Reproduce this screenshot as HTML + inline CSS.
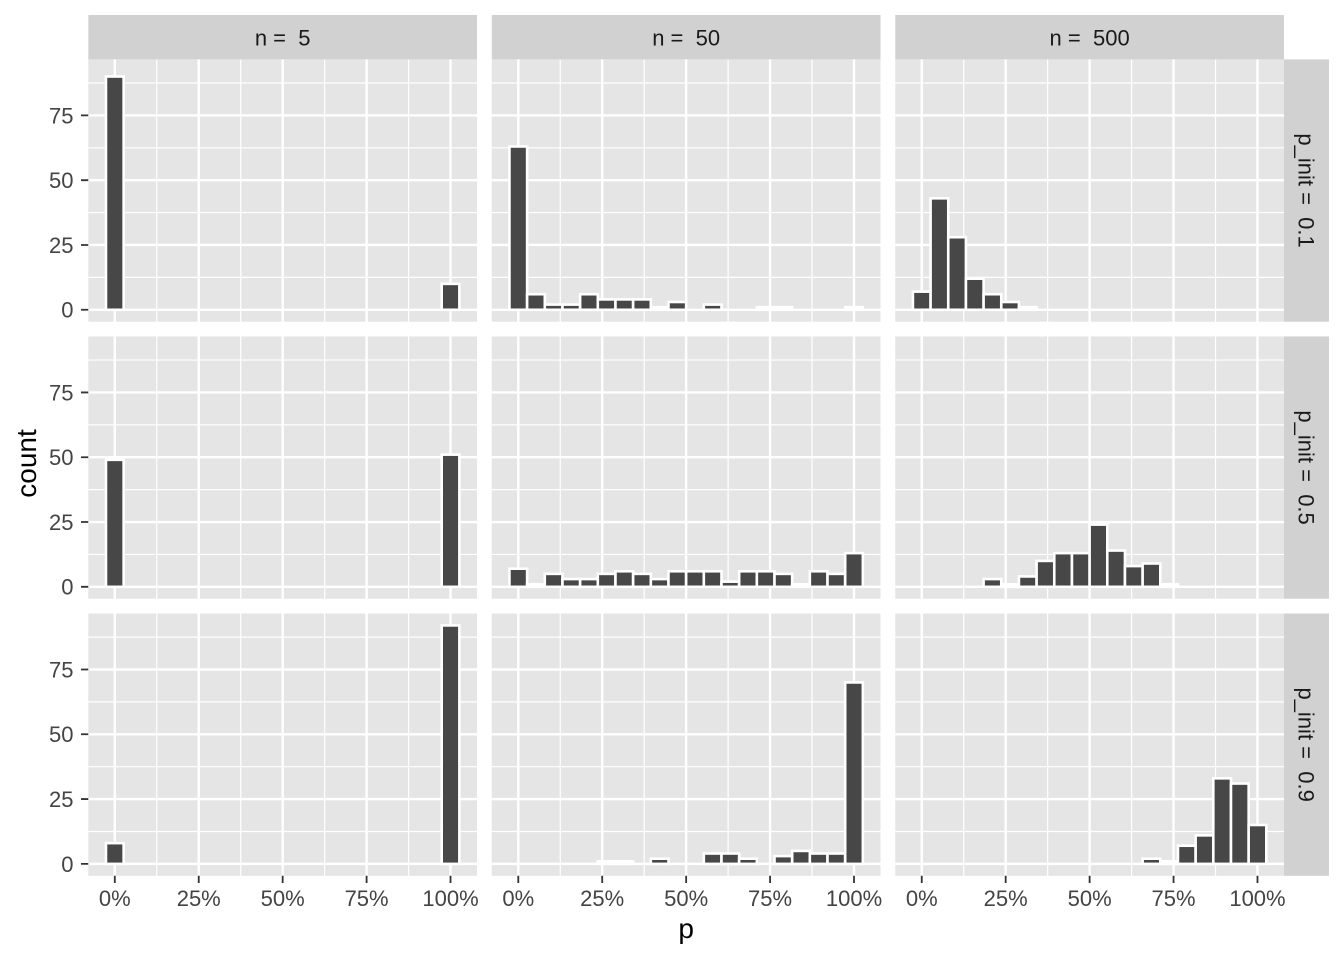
<!DOCTYPE html>
<html>
<head>
<meta charset="utf-8">
<style>
html,body{margin:0;padding:0;background:#fff;}
svg{display:block;}
text{font-family:"Liberation Sans",Arial,sans-serif;}
.tl{font-size:22px;fill:#444444;}
.st{font-size:22px;fill:#1a1a1a;white-space:pre;}
.ti{font-size:28px;fill:#000;}
</style>
</head>
<body>
<svg width="1344" height="960" viewBox="0 0 1344 960" xmlns="http://www.w3.org/2000/svg">
<defs>
<g id="grid">
<rect x="0" y="0" width="388.73" height="262.3" fill="#E5E5E5"/>
<path d="M68.47 0V262.3M152.4 0V262.3M236.33 0V262.3M320.26 0V262.3M0 23.59H388.73M0 88.39H388.73M0 153.18H388.73M0 217.98H388.73" stroke="#fff" stroke-width="1.2" fill="none"/>
<path d="M26.5 0V262.3M110.43 0V262.3M194.37 0V262.3M278.3 0V262.3M362.23 0V262.3M0 55.99H388.73M0 120.78H388.73M0 185.58H388.73M0 250.38H388.73" stroke="#fff" stroke-width="2.4" fill="none"/>
</g>
</defs>

<!-- Row 1 -->
<g transform="translate(88.3,59.4)">
<use href="#grid"/>
<g fill="#474747" stroke="#fff" stroke-width="2.6">
<rect x="17.67" y="17.11" width="17.67" height="233.27"/>
<rect x="353.40" y="224.46" width="17.67" height="25.92"/>
</g>
</g>
<g transform="translate(491.78,59.4)">
<use href="#grid"/>
<g fill="#474747" stroke="#fff" stroke-width="2.6">
<rect x="17.67" y="87.09" width="17.67" height="163.29"/>
<rect x="35.34" y="234.83" width="17.67" height="15.55"/>
<rect x="53.01" y="245.20" width="17.67" height="5.18"/>
<rect x="70.68" y="245.20" width="17.67" height="5.18"/>
<rect x="88.35" y="234.83" width="17.67" height="15.55"/>
<rect x="106.02" y="240.01" width="17.67" height="10.37"/>
<rect x="123.69" y="240.01" width="17.67" height="10.37"/>
<rect x="141.36" y="240.01" width="17.67" height="10.37"/>
<rect x="159.03" y="247.79" width="17.67" height="2.59"/>
<rect x="176.70" y="242.60" width="17.67" height="7.78"/>
<rect x="212.04" y="245.20" width="17.67" height="5.18"/>
<rect x="265.05" y="247.79" width="17.67" height="2.59"/>
<rect x="282.72" y="247.79" width="17.67" height="2.59"/>
<rect x="353.40" y="247.79" width="17.67" height="2.59"/>
</g>
</g>
<g transform="translate(895.25,59.4)">
<use href="#grid"/>
<g fill="#474747" stroke="#fff" stroke-width="2.6">
<rect x="17.67" y="232.24" width="17.67" height="18.14"/>
<rect x="35.34" y="138.93" width="17.67" height="111.45"/>
<rect x="53.01" y="177.81" width="17.67" height="72.57"/>
<rect x="70.68" y="219.28" width="17.67" height="31.10"/>
<rect x="88.35" y="234.83" width="17.67" height="15.55"/>
<rect x="106.02" y="242.60" width="17.67" height="7.78"/>
<rect x="123.69" y="247.79" width="17.67" height="2.59"/>
</g>
</g>

<!-- Row 2 -->
<g transform="translate(88.3,336.45)">
<use href="#grid"/>
<g fill="#474747" stroke="#fff" stroke-width="2.6">
<rect x="17.67" y="123.38" width="17.67" height="127.00"/>
<rect x="353.40" y="118.19" width="17.67" height="132.19"/>
</g>
</g>
<g transform="translate(491.78,336.45)">
<use href="#grid"/>
<g fill="#474747" stroke="#fff" stroke-width="2.6">
<rect x="17.67" y="232.24" width="17.67" height="18.14"/>
<rect x="35.34" y="247.79" width="17.67" height="2.59"/>
<rect x="53.01" y="237.42" width="17.67" height="12.96"/>
<rect x="70.68" y="242.60" width="17.67" height="7.78"/>
<rect x="88.35" y="242.60" width="17.67" height="7.78"/>
<rect x="106.02" y="237.42" width="17.67" height="12.96"/>
<rect x="123.69" y="234.83" width="17.67" height="15.55"/>
<rect x="141.36" y="237.42" width="17.67" height="12.96"/>
<rect x="159.03" y="242.60" width="17.67" height="7.78"/>
<rect x="176.70" y="234.83" width="17.67" height="15.55"/>
<rect x="194.37" y="234.83" width="17.67" height="15.55"/>
<rect x="212.04" y="234.83" width="17.67" height="15.55"/>
<rect x="229.71" y="245.20" width="17.67" height="5.18"/>
<rect x="247.38" y="234.83" width="17.67" height="15.55"/>
<rect x="265.05" y="234.83" width="17.67" height="15.55"/>
<rect x="282.72" y="237.42" width="17.67" height="12.96"/>
<rect x="300.39" y="247.79" width="17.67" height="2.59"/>
<rect x="318.06" y="234.83" width="17.67" height="15.55"/>
<rect x="335.73" y="237.42" width="17.67" height="12.96"/>
<rect x="353.40" y="216.69" width="17.67" height="33.69"/>
</g>
</g>
<g transform="translate(895.25,336.45)">
<use href="#grid"/>
<g fill="#474747" stroke="#fff" stroke-width="2.6">
<rect x="88.35" y="242.60" width="17.67" height="7.78"/>
<rect x="106.02" y="247.79" width="17.67" height="2.59"/>
<rect x="123.69" y="240.01" width="17.67" height="10.37"/>
<rect x="141.36" y="224.46" width="17.67" height="25.92"/>
<rect x="159.03" y="216.69" width="17.67" height="33.69"/>
<rect x="176.70" y="216.69" width="17.67" height="33.69"/>
<rect x="194.37" y="188.17" width="17.67" height="62.21"/>
<rect x="212.04" y="214.09" width="17.67" height="36.29"/>
<rect x="229.71" y="229.64" width="17.67" height="20.74"/>
<rect x="247.38" y="227.05" width="17.67" height="23.33"/>
<rect x="265.05" y="247.79" width="17.67" height="2.59"/>
</g>
</g>

<!-- Row 3 -->
<g transform="translate(88.3,613.5)">
<use href="#grid"/>
<g fill="#474747" stroke="#fff" stroke-width="2.6">
<rect x="17.67" y="229.64" width="17.67" height="20.74"/>
<rect x="353.40" y="11.93" width="17.67" height="238.45"/>
</g>
</g>
<g transform="translate(491.78,613.5)">
<use href="#grid"/>
<g fill="#474747" stroke="#fff" stroke-width="2.6">
<rect x="106.02" y="247.79" width="17.67" height="2.59"/>
<rect x="123.69" y="247.79" width="17.67" height="2.59"/>
<rect x="159.03" y="245.20" width="17.67" height="5.18"/>
<rect x="212.04" y="240.01" width="17.67" height="10.37"/>
<rect x="229.71" y="240.01" width="17.67" height="10.37"/>
<rect x="247.38" y="245.20" width="17.67" height="5.18"/>
<rect x="282.72" y="242.60" width="17.67" height="7.78"/>
<rect x="300.39" y="237.42" width="17.67" height="12.96"/>
<rect x="318.06" y="240.01" width="17.67" height="10.37"/>
<rect x="335.73" y="240.01" width="17.67" height="10.37"/>
<rect x="353.40" y="68.95" width="17.67" height="181.43"/>
</g>
</g>
<g transform="translate(895.25,613.5)">
<use href="#grid"/>
<g fill="#474747" stroke="#fff" stroke-width="2.6">
<rect x="247.38" y="245.20" width="17.67" height="5.18"/>
<rect x="265.05" y="247.79" width="17.67" height="2.59"/>
<rect x="282.72" y="232.24" width="17.67" height="18.14"/>
<rect x="300.39" y="221.87" width="17.67" height="28.51"/>
<rect x="318.06" y="164.85" width="17.67" height="85.53"/>
<rect x="335.73" y="170.03" width="17.67" height="80.35"/>
<rect x="353.40" y="211.50" width="17.67" height="38.88"/>
</g>
</g>

<!-- Top strips -->
<rect x="88.3" y="15" width="388.73" height="44.4" fill="#D1D1D1"/>
<rect x="491.78" y="15" width="388.73" height="44.4" fill="#D1D1D1"/>
<rect x="895.25" y="15" width="388.73" height="44.4" fill="#D1D1D1"/>
<text class="st" x="282.67" y="45.5" text-anchor="middle" xml:space="preserve">n =  5</text>
<text class="st" x="686.15" y="45.5" text-anchor="middle" xml:space="preserve">n =  50</text>
<text class="st" x="1089.62" y="45.5" text-anchor="middle" xml:space="preserve">n =  500</text>

<!-- Right strips -->
<rect x="1283.98" y="59.4" width="45" height="262.3" fill="#D1D1D1"/>
<rect x="1283.98" y="336.45" width="45" height="262.3" fill="#D1D1D1"/>
<rect x="1283.98" y="613.5" width="45" height="262.3" fill="#D1D1D1"/>
<text class="st" x="1306.5" y="198.45" text-anchor="middle" transform="rotate(90 1306.5 190.55)" xml:space="preserve">p_init =  0.1</text>
<text class="st" x="1306.5" y="475.5" text-anchor="middle" transform="rotate(90 1306.5 467.6)" xml:space="preserve">p_init =  0.5</text>
<text class="st" x="1306.5" y="752.55" text-anchor="middle" transform="rotate(90 1306.5 744.65)" xml:space="preserve">p_init =  0.9</text>

<!-- Y ticks -->
<path d="M81 309.78H88.3M81 244.98H88.3M81 180.18H88.3M81 115.39H88.3M81 586.83H88.3M81 522.03H88.3M81 457.23H88.3M81 392.44H88.3M81 863.88H88.3M81 799.08H88.3M81 734.28H88.3M81 669.49H88.3" stroke="#333" stroke-width="1.8" fill="none"/>
<g class="tl" text-anchor="end">
<text x="73.5" y="317.7">0</text>
<text x="73.5" y="252.9">25</text>
<text x="73.5" y="188.1">50</text>
<text x="73.5" y="123.3">75</text>
<text x="73.5" y="594.7">0</text>
<text x="73.5" y="529.9">25</text>
<text x="73.5" y="465.1">50</text>
<text x="73.5" y="400.3">75</text>
<text x="73.5" y="871.8">0</text>
<text x="73.5" y="807.0">25</text>
<text x="73.5" y="742.2">50</text>
<text x="73.5" y="677.4">75</text>
</g>

<!-- X ticks -->
<path d="M114.8 875.8V883M198.73 875.8V883M282.67 875.8V883M366.6 875.8V883M450.53 875.8V883M518.28 875.8V883M602.21 875.8V883M686.15 875.8V883M770.08 875.8V883M854.01 875.8V883M921.75 875.8V883M1005.68 875.8V883M1089.62 875.8V883M1173.55 875.8V883M1257.48 875.8V883" stroke="#333" stroke-width="1.8" fill="none"/>
<g class="tl" text-anchor="middle">
<text x="114.8" y="906">0%</text>
<text x="198.73" y="906">25%</text>
<text x="282.67" y="906">50%</text>
<text x="366.6" y="906">75%</text>
<text x="450.53" y="906">100%</text>
<text x="518.28" y="906">0%</text>
<text x="602.21" y="906">25%</text>
<text x="686.15" y="906">50%</text>
<text x="770.08" y="906">75%</text>
<text x="854.01" y="906">100%</text>
<text x="921.75" y="906">0%</text>
<text x="1005.68" y="906">25%</text>
<text x="1089.62" y="906">50%</text>
<text x="1173.55" y="906">75%</text>
<text x="1257.48" y="906">100%</text>
</g>

<!-- Axis titles -->
<text class="ti" x="686.15" y="938" text-anchor="middle">p</text>
<text class="ti" x="36" y="463.5" text-anchor="middle" transform="rotate(-90 36 463.5)">count</text>
</svg>
</body>
</html>
